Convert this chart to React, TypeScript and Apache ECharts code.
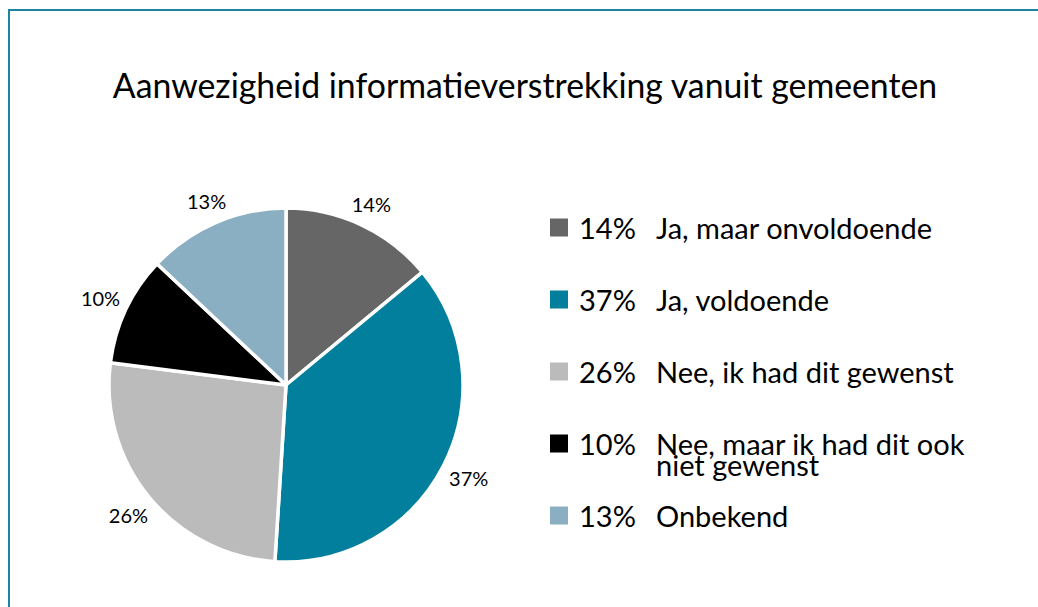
import React, { useEffect, useRef } from "react";
import * as echarts from "echarts";

const titleText = "Aanwezigheid informatieverstrekking vanuit gemeenten";
const categories = [
  "Ja, maar onvoldoende",
  "Ja, voldoende",
  "Nee, ik had dit gewenst",
  "Nee, maar ik had dit ook niet gewenst",
  "Onbekend",
];
const values = [14, 37, 26, 10, 13];
const colors = ["#666666", "#027f9d", "#bbbbbb", "#000000", "#8bafc2"];

const FONT = "Lato, 'Open Sans', sans-serif";
const CX = 286;
const CY = 385;
const R = 177;
const LABEL_GAP = 6;

function wrap(name: string, max: number): string[] {
  const words = name.split(" ");
  const lines: string[] = [];
  let cur = "";
  for (const w of words) {
    const t = cur ? cur + " " + w : w;
    if (t.length > max && cur) {
      lines.push(cur);
      cur = w;
    } else cur = t;
  }
  if (cur) lines.push(cur);
  return lines;
}

export default function App() {
  const ref = useRef<HTMLDivElement>(null);
  useEffect(() => {
    if (!ref.current) return;
    const chart = echarts.init(ref.current, undefined, { renderer: "svg" });
    const total = values.reduce((a, b) => a + b, 0);
    const option: any = {
      animation: false,
      backgroundColor: "#ffffff",
      title: {
        text: titleText,
        left: 520,
        textAlign: "center",
        top: 63,
        textStyle: { fontFamily: FONT, fontSize: 33.8, fontWeight: "normal", color: "#000" },
      },
      graphic: [
        { type: "line", silent: true, shape: { x1: 8, y1: 10, x2: 1038, y2: 10 }, style: { stroke: "#1b85a0", lineWidth: 2 } },
        { type: "line", silent: true, shape: { x1: 9, y1: 9, x2: 9, y2: 607 }, style: { stroke: "#1b85a0", lineWidth: 2 } },
      ],
      legend: {
        orient: "vertical",
        left: 548,
        top: 192,
        padding: 0,
        itemWidth: 20,
        itemHeight: 20,
        itemGap: 1,
        icon: "rect",
        selectedMode: false,
        data: categories,
        formatter: (name: string) => {
          const i = categories.indexOf(name);
          const lines = wrap(name, 24);
          let s = "{e| }\n{p|" + values[i] + "%}{l|" + lines[0] + "}\n";
          if (lines.length > 1) s += "{q| }{m|" + lines.slice(1).join(" ") + "}";
          else s += "{e| }";
          return s;
        },
        textStyle: {
          fontFamily: FONT,
          color: "#000",
          rich: {
            e: { fontFamily: FONT, fontSize: 29, lineHeight: 20 },
            p: { fontFamily: FONT, fontSize: 29, lineHeight: 22, width: 77, padding: [0, 0, 0, 5], color: "#000" },
            l: { fontFamily: FONT, fontSize: 29, lineHeight: 22, color: "#000" },
            q: { fontFamily: FONT, fontSize: 29, lineHeight: 20, width: 82 },
            m: { fontFamily: FONT, fontSize: 29, lineHeight: 20, color: "#000" },
          },
        },
      },
      series: [
        {
          type: "pie",
          center: [CX, CY],
          radius: R,
          startAngle: 90,
          clockwise: true,
          avoidLabelOverlap: false,
          data: categories.map((c, i) => ({ name: c, value: values[i], itemStyle: { color: colors[i] } })),
          itemStyle: { borderColor: "#ffffff", borderWidth: 3.5 },
          label: {
            show: true,
            position: "outside",
            formatter: "{c}%",
            fontFamily: FONT,
            fontSize: 20,
            color: "#000",
          },
          labelLine: { show: false, length: 12, length2: 0 },
          labelLayout: (p: any) => {
            const i = p.dataIndex;
            const cum = values.slice(0, i).reduce((a, b) => a + b, 0) + values[i] / 2;
            const ang = (cum / total) * 2 * Math.PI;
            const ux = Math.sin(ang);
            const uy = -Math.cos(ang);
            const w = p.labelRect.width;
            const h = p.labelRect.height;
            const ext = (Math.abs(ux) * w) / 2 + (Math.abs(uy) * h) / 2;
            const d = R + LABEL_GAP + ext;
            return { x: CX + d * ux, y: CY + d * uy, align: "center", verticalAlign: "middle" };
          },
          emphasis: { disabled: true },
        },
      ],
    };
    chart.setOption(option);
    return () => chart.dispose();
  }, []);
  return <div ref={ref} style={{ position: "fixed", left: 0, top: 0, width: 1038, height: 607 }} />;
}
